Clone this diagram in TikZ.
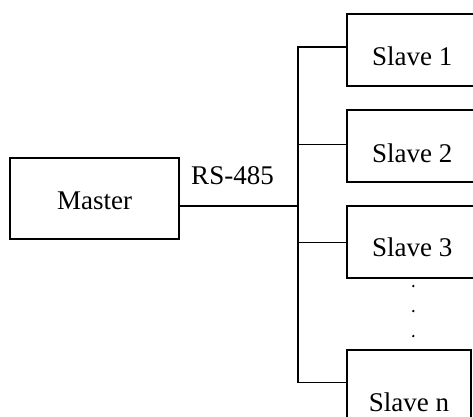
\documentclass[tikz,border=0pt]{standalone}
\usepackage{fontspec}
\setmainfont{Liberation Serif}
\tikzset{
  unit/.style={draw, line width=1.6pt, inner sep=0pt, text depth=0pt,
    font=\fontsize{27}{32}\selectfont},
  wire/.style={line width=1.6pt, line cap=rect},
}
\begin{document}
\begin{tikzpicture}[x=1pt,y=-1pt]
  \useasboundingbox (0,0) rectangle (473,416);
  \clip (0,0) rectangle (473,416);
  % master and slaves
  \node[unit, minimum width=169pt, minimum height=81pt, text height=21.6pt] (master) at (94.5,198.5) {Master};
  \node[unit, minimum width=131pt, minimum height=71.7pt, text height=30.3pt] (slave1) at (412.2,49.85) {Slave 1};
  \node[unit, minimum width=131pt, minimum height=71.7pt, text height=32.8pt] (slave2) at (412.2,145.9) {Slave 2};
  \node[unit, minimum width=131pt, minimum height=71.7pt, text height=29.6pt] (slave3) at (412.2,241.9) {Slave 3};
  \node[unit, minimum width=124.3pt, minimum height=72pt, text height=50pt] (slaven) at (408.9,386) {Slave n};
  \node[font=\fontsize{27}{32}\selectfont, inner sep=0pt, anchor=base] (buslabel) at (232.5,184) {RS-485};
  % bus taps
  \coordinate (t1) at (298,46.7);
  \coordinate (t2) at (298,144.3);
  \coordinate (t3) at (298,242.3);
  \coordinate (tn) at (298,382.3);
  \coordinate (tm) at (298,205.7);
  \draw[wire] (t1) -- (tn);
  \foreach \s in {1,2,3,n}
    \draw[wire] (t\s) -- (t\s -| slave\s.west);
  \draw[wire] (tm) -- (tm -| master.east);
  \foreach \y in {286,311,336}
    \fill (413.3,\y) circle (1.3pt);
\end{tikzpicture}
\end{document}
